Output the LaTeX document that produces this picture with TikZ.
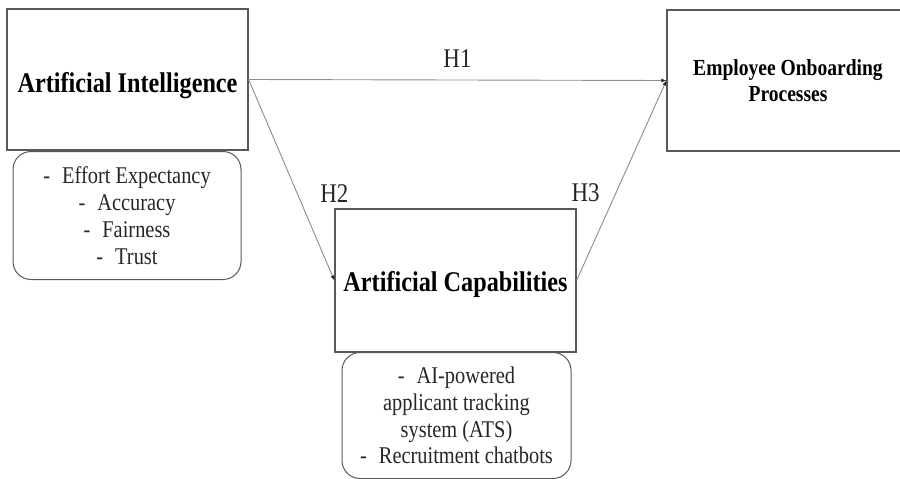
\documentclass[tikz,border=0pt]{standalone}
\usepackage{fontspec}
\setmainfont[FakeStretch=0.85]{Liberation Serif}
\usetikzlibrary{arrows.meta}
\usetikzlibrary{positioning}

\tikzset{
  varbox/.style={draw=black!65,line width=1.2pt,minimum width=241pt,minimum height=141pt,
    font=\fontsize{28.5}{30}\selectfont\bfseries,align=center},
  itembox/.style={draw=black!65,line width=1pt,rounded corners=18pt,minimum width=228pt,
    minimum height=128pt,font=\fontsize{24}{26.8}\selectfont,text=black!85,align=center},
  hyp/.style={font=\fontsize{27}{28}\selectfont,text=black!85,inner sep=0pt},
  link/.style={draw=black!45,line width=0.9pt,-{Latex[length=5pt,width=4pt,black!85]}}
}

\begin{document}
\begin{tikzpicture}[x=1pt,y=-1pt]
                    \useasboundingbox (0,0) rectangle (900,479);
                    \node[varbox] (ai) at (127.5,79.5) {\raisebox{-13pt}[0pt][0pt]{Artificial Intelligence}};
                    \node[itembox] (aisub) at (127,215.5) {-\enspace Effort Expectancy\\-\enspace Accuracy\\-\enspace Fairness\\-\enspace Trust};
                    \node[varbox,font=\fontsize{23}{26}\selectfont\bfseries,minimum width=242pt] (eop) at (788,80.5) {Employee Onboarding\\Processes};
                    \node[varbox,minimum height=143pt] (ac) at (455.5,280.5) {\raisebox{-11pt}[0pt][0pt]{Artificial Capabilities}};
                    \node[itembox,minimum width=229pt,minimum height=126pt] (acsub) at (456.5,415.5) {-\enspace AI-powered\\applicant tracking\\system (ATS)\\-\enspace Recruitment chatbots};
                    \draw[link] (ai.east) -- node[hyp,midway,above=12pt] (h1) {H1} (eop.west);
                    \draw[link] (ai.east) -- (ac.west);
                    \draw[link] (ac.east) -- (eop.west);
                    \node[hyp,above=6pt of ac.north west] (h2) {H2};
                    \node[hyp,above=6pt of ac.north east,xshift=9pt] (h3) {H3};
                \end{tikzpicture}
\end{document}
